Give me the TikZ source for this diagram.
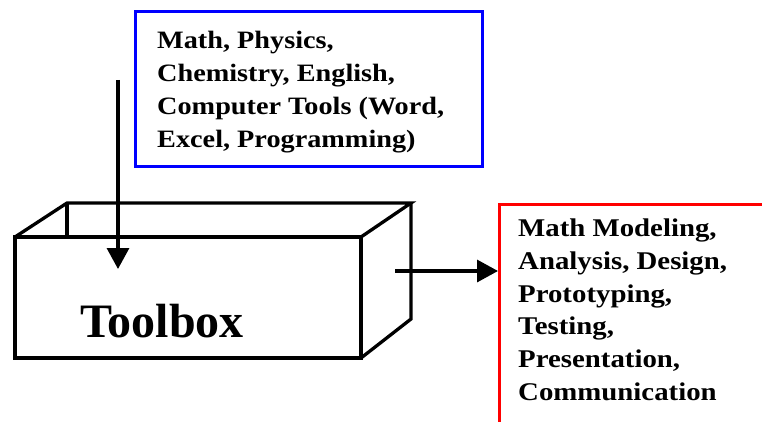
\documentclass[tikz,border=0pt]{standalone}
\usepackage{fontspec}
\setmainfont{Liberation Serif}
\newfontfamily\widefont[FakeStretch=1.13]{Liberation Serif}
\usetikzlibrary{arrows.meta}
\tikzset{
  edge/.style={line width=3.3pt, line join=miter},
  arr/.style={line width=3.3pt, -{Triangle[width=22pt,length=21pt]}},
  label/.style={anchor=base west, inner sep=0pt, align=left},
  inlabel/.style={label, font={\widefont\bfseries\fontsize{25}{33}\selectfont}},
  outlabel/.style={label, font={\widefont\bfseries\fontsize{25.5}{32.8}\selectfont}},
  framebox/.style={line width=3pt}
}
\begin{document}
\begin{tikzpicture}[x=1pt,y=-1pt]
\useasboundingbox (0,0) rectangle (762,422);
\clip (0,0) rectangle (762,422);
% top input box
\draw[framebox, draw={rgb,255:red,0;green,0;blue,255}] (135,12) rectangle (482,167);
\node[inlabel] (inputs) at (157,147.5) {Math, Physics,\\Chemistry, English,\\Computer Tools (Word,\\Excel, Programming)};
% output box
\node[draw={rgb,255:red,255;green,0;blue,0}, line width=3pt, anchor=north west,
  minimum width=300pt, minimum height=260pt, inner sep=0pt] (outbox) at (498,203) {};
\node[outlabel] (outputs) at (518,400.5) {Math Modeling,\\Analysis, Design,\\Prototyping,\\Testing,\\Presentation,\\Communication};
% toolbox
\coordinate (fl) at (15,237);
\coordinate (fr) at (361,237);
\coordinate (br) at (361,358);
\coordinate (bl) at (15,358);
\coordinate (bkl) at (67,203);
\coordinate (bkr) at (411,203);
\coordinate (bkb) at (411,319);
\draw[edge] (fl) rectangle (br);
\draw[edge] (fl) -- (bkl) -- (bkr) -- (fr);
\draw[edge] (bkl) -- (67,237);
\draw[edge] (bkr) -- (bkb) -- (br);
\node[anchor=base west, inner sep=0pt, font={\bfseries\fontsize{48}{50}\selectfont}] (toolbox) at (80,337) {Toolbox};
% arrows
\coordinate (instart) at (118,80);
\coordinate (inend) at (118,269);
\draw[arr] (instart) -- (inend);
\coordinate (outstart) at (395,271);
\draw[arr] (outstart) -- (outstart -| outbox.west);
\end{tikzpicture}
\end{document}
